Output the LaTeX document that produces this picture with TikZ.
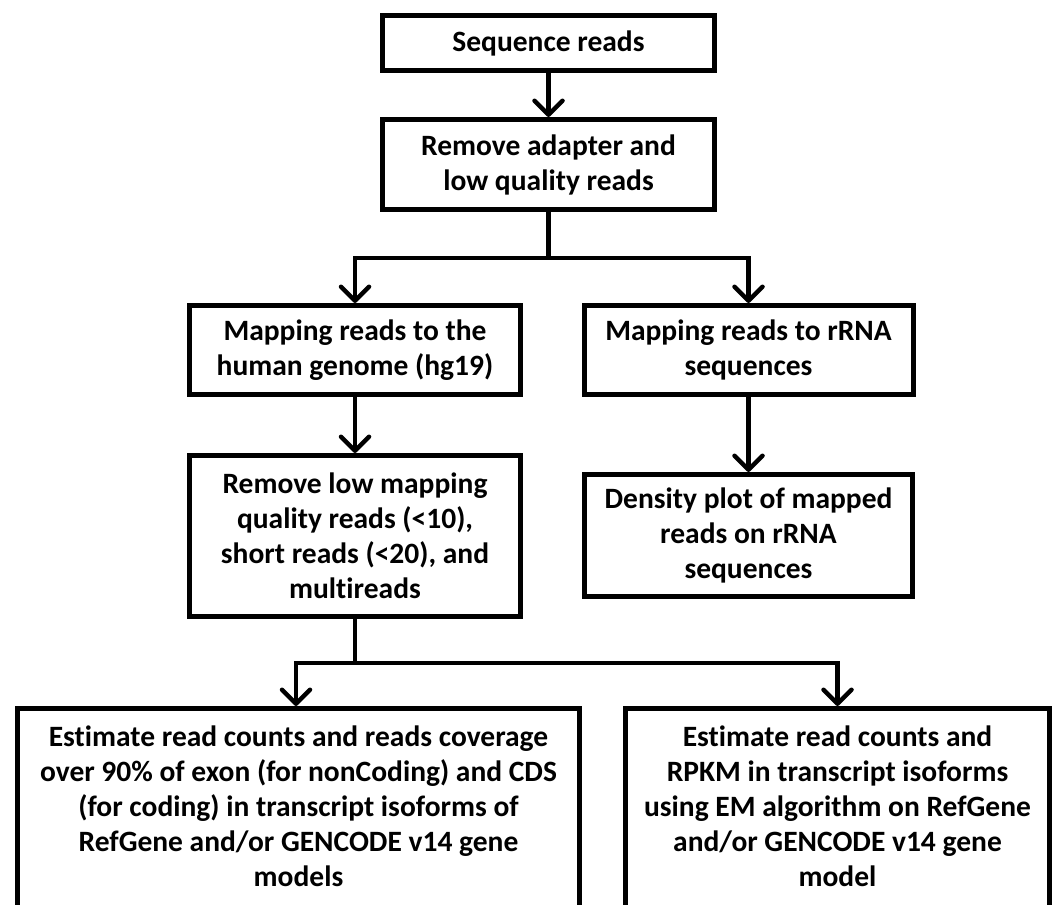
\documentclass[tikz,border=0pt]{standalone}
\usepackage{fontspec}
\setmainfont[Ligatures=NoCommon]{Carlito}
\usetikzlibrary{arrows.meta}
\tikzset{
  box/.style={draw=black, line width=5pt, fill=white, align=center, inner sep=0pt,
    font=\bfseries\fontsize{29.5}{35}\selectfont},
  lbl/.style={align=center, inner sep=0pt, font=\bfseries\fontsize{29.5}{35}\selectfont},
  conn/.style={line width=4.5pt, -{Straight Barb[length=14pt,width=28pt,line width=4.5pt,round]}},
  plain/.style={line width=4.5pt},
}
\begin{document}
\begin{tikzpicture}[x=1pt,y=-1pt]
\useasboundingbox (0,0) rectangle (1055,905);
\clip (0,0) rectangle (1055,905);
\fill[white] (0,0) rectangle (1055,905);
\node[box, minimum width=332pt, minimum height=55pt] (b1) at (548.5,43) {Sequence reads};
\node[box, minimum width=332pt, minimum height=90pt] (b2) at (548.5,164.5) {Remove adapter and\\low quality reads};
\node[box, minimum width=331pt, minimum height=89pt] (b3) at (355,350) {Mapping reads to the\\human genome (hg19)};
\node[box, minimum width=329pt, minimum height=89pt] (b4) at (748.5,350) {Mapping reads to rRNA\\sequences};
\node[box, minimum width=331pt, minimum height=161pt] (b5) at (355,536) {Remove low mapping\\quality reads (<10),\\short reads (<20), and\\multireads};
\node[box, minimum width=328pt, minimum height=122pt] (b6) at (748.5,535.5) {Density plot of mapped\\reads on rRNA\\sequences};
\node[box, anchor=north, minimum width=562pt, minimum height=260pt] (b7) at (298.5,706) {};
\node[box, anchor=north, minimum width=424pt, minimum height=260pt] (b8) at (837.5,706) {};
\node[lbl, anchor=north] (t7) at (298.5,726) {Estimate read counts and reads coverage\\over 90\% of exon (for nonCoding) and CDS\\(for coding) in transcript isoforms of\\RefGene and/or GENCODE v14 gene\\models};
\node[lbl, anchor=north] (t8) at (837.5,726) {Estimate read counts and\\RPKM in transcript isoforms\\using EM algorithm on RefGene\\and/or GENCODE v14 gene\\model};
\coordinate (s1) at (548.5,258);
\coordinate (s2) at (355,663);
\draw[plain] (b2.south) -- (s1);
\draw[conn] (b1.south) -- (b2.north);
\draw[conn] (s1) -| (b3.north);
\draw[conn] (s1) -| (b4.north);
\draw[conn] (b3.south) -- (b5.north);
\draw[conn] (b4.south) -- (b6.north);
\draw[plain] (b5.south) -- (s2);
\draw[conn] (s2) -| ([xshift=-2.5pt]b7.north);
\draw[conn] (s2) -| (b8.north);
\end{tikzpicture}
\end{document}
